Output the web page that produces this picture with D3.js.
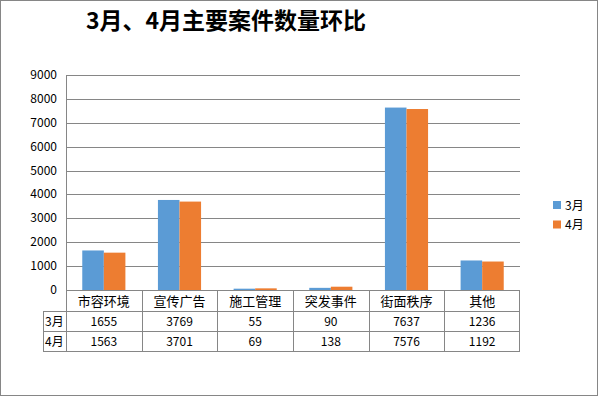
<!DOCTYPE html>
<html>
<head>
<meta charset="utf-8">
<script src="https://cdn.jsdelivr.net/npm/d3@7/dist/d3.min.js"></script>
<style>
  body { margin: 0; background: #fff; }
  text { font-family: "Noto Sans CJK SC", "DejaVu Sans", sans-serif; }
</style>
</head>
<body>
<svg width="599" height="397"></svg>
<script>
const categories = ["市容环境", "宣传广告", "施工管理", "突发事件", "街面秩序", "其他"];
const seriesNames = ["3月", "4月"];
const march = [1655, 3769, 55, 90, 7637, 1236];
const april = [1563, 3701, 69, 138, 7576, 1192];
const yTicks = [0, 1000, 2000, 3000, 4000, 5000, 6000, 7000, 8000, 9000];
const colors = ["#5B9BD5", "#ED7D31"];

const svg = d3.select("svg");
const grid = "#868686";

// outer frame
svg.append("rect").attr("x", 0.5).attr("y", 0.5).attr("width", 597).attr("height", 395)
  .attr("fill", "#fff").attr("stroke", grid);

// title
svg.append("text").attr("x", 226).attr("y", 29).attr("text-anchor", "middle")
  .style("font-size", "23px").style("font-weight", "bold").attr("fill", "#000")
  .text("3月、4月主要案件数量环比");

const x = d3.scaleBand().domain(categories).range([66, 520]);
const y = d3.scaleLinear().domain([0, 9000]).range([290, 75]);
const bw = x.bandwidth();
const x1 = d3.scaleBand().domain(seriesNames).range([bw * 0.215, bw * 0.785]);

// gridlines
svg.append("g").selectAll("line").data(yTicks).join("line")
  .attr("x1", 66).attr("x2", 520)
  .attr("y1", d => Math.round(y(d)) + 0.5).attr("y2", d => Math.round(y(d)) + 0.5)
  .attr("stroke", grid);

// y axis labels
svg.append("g").selectAll("text").data(yTicks).join("text")
  .attr("x", 57).attr("y", d => y(d) + 4).attr("text-anchor", "end")
  .style("font-size", "12px").attr("fill", "#000").text(d => d);

// y axis line
svg.append("line").attr("x1", 66.5).attr("x2", 66.5).attr("y1", 75).attr("y2", 290).attr("stroke", grid);

// bars
const series = [march, april];
series.forEach((vals, si) => {
  svg.append("g").selectAll("rect").data(vals).join("rect")
    .attr("x", (d, i) => x(categories[i]) + x1(seriesNames[si]))
    .attr("width", x1.bandwidth())
    .attr("y", d => y(d))
    .attr("height", d => y(0) - y(d))
    .attr("fill", colors[si]);
});

// data table
const rowY = [290, 311.5, 331.5, 351];
const tbl = svg.append("g");
// horizontal lines
tbl.append("line").attr("x1", 66).attr("x2", 520).attr("y1", 290.5).attr("y2", 290.5).attr("stroke", grid);
[311.5, 331.5, 351.5].forEach(yy => {
  tbl.append("line").attr("x1", 43).attr("x2", 520).attr("y1", yy).attr("y2", yy).attr("stroke", grid);
});
// vertical lines
tbl.append("line").attr("x1", 43.5).attr("x2", 43.5).attr("y1", 311.5).attr("y2", 351.5).attr("stroke", grid);
categories.forEach(c => {
  const xx = Math.round(x(c)) + 0.5;
  tbl.append("line").attr("x1", xx).attr("x2", xx).attr("y1", 290).attr("y2", 351.5).attr("stroke", grid);
});
tbl.append("line").attr("x1", 519.5).attr("x2", 519.5).attr("y1", 290).attr("y2", 351.5).attr("stroke", grid);

// header category labels
tbl.selectAll("text.cat").data(categories).join("text")
  .attr("x", d => x(d) + bw / 2).attr("y", 306).attr("text-anchor", "middle")
  .style("font-size", "13px").attr("fill", "#000").text(d => d);

// row labels + values
series.forEach((vals, si) => {
  const ty = si === 0 ? 326 : 346;
  tbl.append("text").attr("x", 45).attr("y", ty).style("font-size", "12px").attr("fill", "#000")
    .text(seriesNames[si]);
  tbl.append("g").selectAll("text").data(vals).join("text")
    .attr("x", (d, i) => x(categories[i]) + bw / 2).attr("y", ty).attr("text-anchor", "middle")
    .style("font-size", "12px").attr("fill", "#000").text(d => d);
});

// legend
const leg = svg.append("g");
seriesNames.forEach((s, i) => {
  leg.append("rect").attr("x", 553).attr("y", 201 + i * 19.5).attr("width", 8).attr("height", 8).attr("fill", colors[i]);
  leg.append("text").attr("x", 565).attr("y", 209.5 + i * 19.5).style("font-size", "12px").attr("fill", "#000").text(s);
});
</script>
</body>
</html>
